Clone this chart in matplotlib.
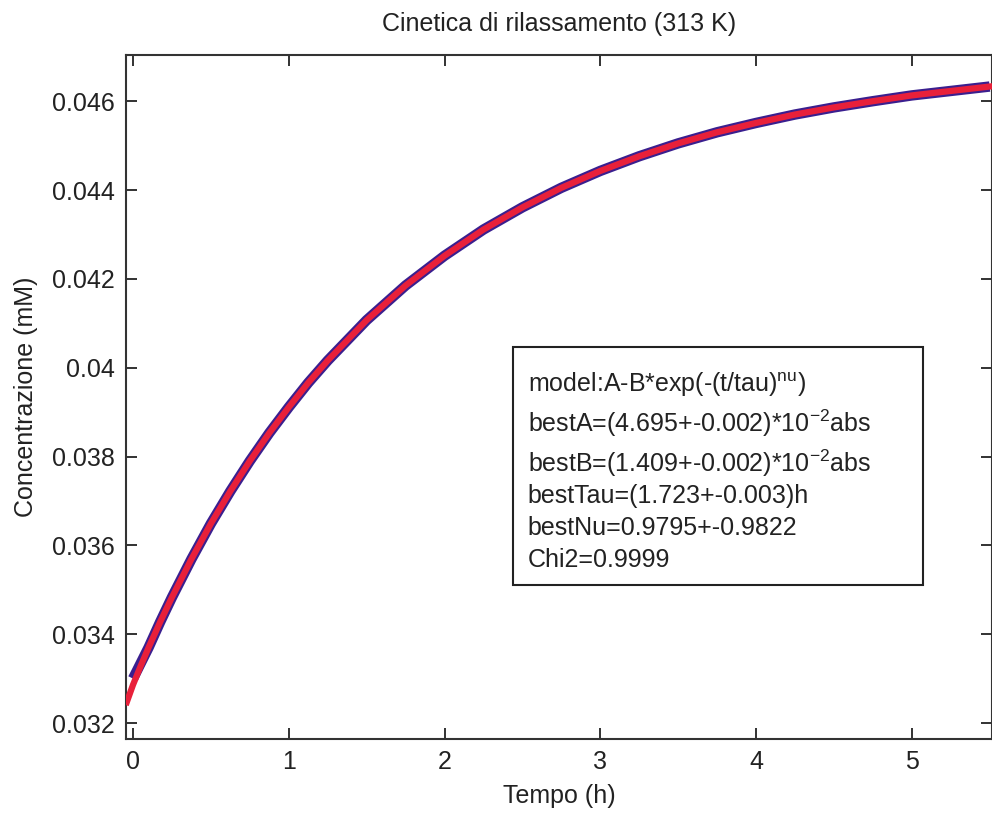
import matplotlib
matplotlib.use("Agg")
import matplotlib.pyplot as plt
from matplotlib.patches import Rectangle

plt.rcParams['font.family'] = ['Liberation Sans', 'DejaVu Sans']
plt.rcParams['mathtext.fontset'] = 'custom'
plt.rcParams['mathtext.rm'] = 'Liberation Sans'
plt.rcParams['mathtext.it'] = 'Liberation Sans'

# data
time_data = [0.0, 0.05, 0.1, 0.175, 0.25, 0.375, 0.5, 0.625, 0.75, 0.875, 1.0, 1.125,
             1.25, 1.5, 1.75, 2.0, 2.25, 2.5, 2.75,
             3.0, 3.25, 3.5, 3.75, 4.0, 4.25, 4.5, 4.75, 5.0, 5.25, 5.5]
conc_data = [0.03300, 0.03335, 0.03370, 0.03428, 0.03483, 0.03569, 0.03649, 0.03722,
             0.03790, 0.03853, 0.03911, 0.03966, 0.04016, 0.04107,
             0.04185, 0.04252, 0.04311, 0.04361, 0.04405, 0.04443, 0.04476, 0.04505,
             0.04530, 0.04551, 0.04570, 0.04586, 0.04600, 0.04613, 0.04623, 0.04633]
time_fit = [-0.04, 0.0, 0.05, 0.1, 0.175, 0.25, 0.375, 0.5, 0.625, 0.75, 0.875, 1.0,
            1.125, 1.25, 1.5, 1.75, 2.0, 2.25, 2.5, 2.75,
            3.0, 3.25, 3.5, 3.75, 4.0, 4.25, 4.5, 4.75, 5.0, 5.25, 5.5]
conc_fit = [0.03247, 0.03286, 0.03329, 0.03370, 0.03428, 0.03483, 0.03569, 0.03649,
            0.03722, 0.03790, 0.03853, 0.03911, 0.03966, 0.04016,
            0.04107, 0.04185, 0.04252, 0.04311, 0.04361, 0.04405, 0.04443, 0.04476,
            0.04505, 0.04530, 0.04551, 0.04570, 0.04586, 0.04600, 0.04613, 0.04623, 0.04633]
x_ticks = [0, 1, 2, 3, 4, 5]
y_ticks = [0.032, 0.034, 0.036, 0.038, 0.04, 0.042, 0.044, 0.046]
y_ticklabels = ['0.032', '0.034', '0.036', '0.038', '0.04', '0.042', '0.044', '0.046']
box_lines = [r'model:A-B*exp(-(t/tau)$^{\mathrm{nu}}$)',
             r'bestA=(4.695+-0.002)*10$^{\mathrm{-2}}$abs',
             r'bestB=(1.409+-0.002)*10$^{\mathrm{-2}}$abs',
             'bestTau=(1.723+-0.003)h',
             'bestNu=0.9795+-0.9822',
             'Chi2=0.9999']
box_baselines = [0.03945, 0.03855, 0.03765, 0.03695, 0.03623, 0.03551]

fig = plt.figure(figsize=(9.92, 8.14), dpi=100)
ax = fig.add_axes([126/992, 75/814, 866/992, 684/814])

ax.plot(time_data, conc_data, color='#3a1f8f', lw=7.5, solid_capstyle='butt', zorder=2)
ax.plot(time_fit, conc_fit, color='#e8203a', lw=4.5, zorder=3)

ax.set_xlim(-0.045, 5.515)
ax.set_ylim(0.03164, 0.04704)
ax.set_xticks(x_ticks)
ax.set_yticks(y_ticks)
ax.set_yticklabels(y_ticklabels)
ax.tick_params(direction='in', length=8, width=1.3, top=True, right=True,
               labelsize=18, colors='#222222')
ax.tick_params(axis='y', pad=8)
ax.tick_params(axis='x', pad=8)
for s in ax.spines.values():
    s.set_linewidth(1.5)
    s.set_color('#333333')

ax.set_title('Cinetica di rilassamento (313 K)', fontsize=18, pad=17, color='#222222')
ax.set_xlabel('Tempo (h)', fontsize=18, labelpad=7, color='#222222')
ax.set_ylabel('Concentrazione (mM)', fontsize=18, labelpad=10, color='#222222')

# annotation box
ax.add_patch(Rectangle((2.44, 0.03511), 5.07 - 2.44, 0.04046 - 0.03511,
                       facecolor='white', edgecolor='#222222', lw=1.5, zorder=4))
for line, yb in zip(box_lines, box_baselines):
    ax.text(2.535, yb, line, fontsize=18, va='baseline', ha='left',
            color='#222222', zorder=5)

fig.savefig('out.png', dpi=100)
